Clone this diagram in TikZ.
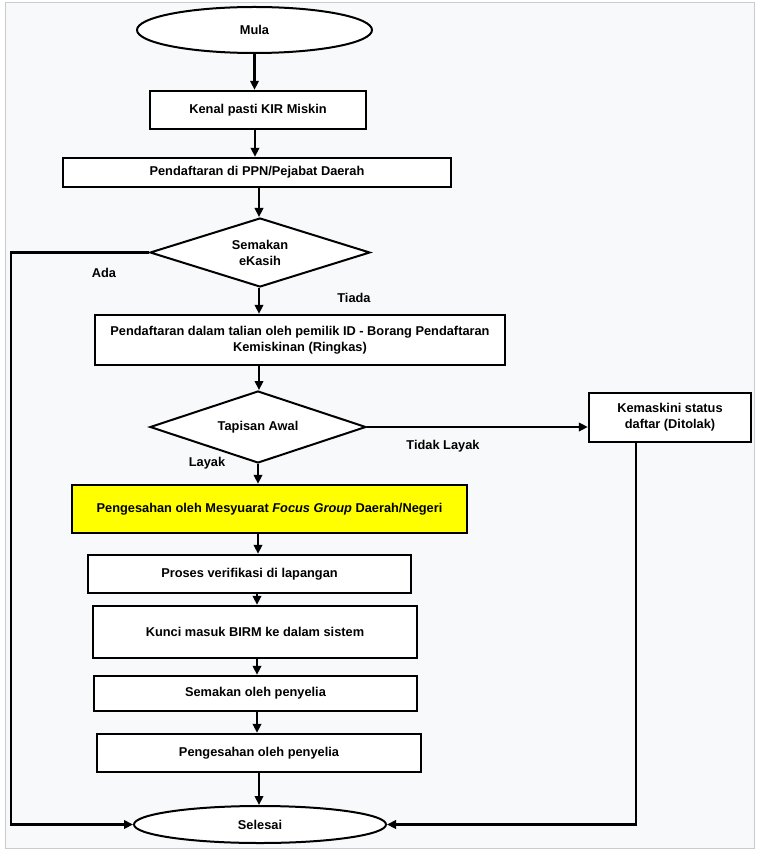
\documentclass[tikz,border=0pt]{standalone}
\usepackage{fontspec}
\setmainfont{Liberation Sans}
\usetikzlibrary{shapes.geometric,arrows.meta}
\definecolor{bgpanel}{HTML}{F8F9FA}
\definecolor{bgline}{HTML}{C8CCD1}
\definecolor{fgyellow}{HTML}{FFFF00}
\tikzset{
  txt/.style={font=\fontsize{12.8}{16}\selectfont\bfseries, align=center},
  procbox/.style={txt, draw=black, line width=2.4pt, fill=white, rectangle, inner sep=0pt},
  decide/.style={txt, draw=black, line width=2pt, fill=white, diamond, aspect=3.2, inner sep=0pt},
  term/.style={txt, draw=black, line width=2pt, fill=white, ellipse, inner sep=0pt},
  arr/.style={line width=2.2pt, -{Triangle[length=9pt,width=8.5pt]}},
  lbl/.style={txt}
}
\begin{document}
\begin{tikzpicture}[x=1pt,y=-1pt]
\useasboundingbox (0,0) rectangle (760,858);
\fill[white] (0,0) rectangle (760,858);
\draw[bgline, fill=bgpanel, line width=1pt] (5,2.5) rectangle (754,848);

\node[term, minimum width=235, minimum height=46] (mula) at (254.5,30) {Mula};
\node[procbox, minimum width=216, minimum height=38] (kenal) at (258,110) {Kenal pasti KIR Miskin};
\node[procbox, minimum width=388, minimum height=29] (ppn) at (257,172.5) {Pendaftaran di PPN/Pejabat Daerah};
\node[decide, minimum width=220, minimum height=69] (semak) at (260,252.5) {Semakan\\eKasih};
\node[procbox, minimum width=410, minimum height=50] (talian) at (300,340) {Pendaftaran dalam talian oleh pemilik ID - Borang Pendaftaran\\Kemiskinan (Ringkas)};
\node[decide, minimum width=216, minimum height=72] (tapis) at (258,427) {Tapisan Awal};
\node[procbox, minimum width=162, minimum height=49] (kemas) at (670,417.5) {Kemaskini status\\daftar (Ditolak)};
\node[procbox, fill=fgyellow, minimum width=395, minimum height=48] (fg) at (269.5,509) {Pengesahan oleh Mesyuarat \textit{Focus Group} Daerah/Negeri};
\node[procbox, minimum width=323, minimum height=38] (proses) at (249.5,574) {Proses verifikasi di lapangan};
\node[procbox, minimum width=324, minimum height=52] (kunci) at (255,632) {Kunci masuk BIRM ke dalam sistem};
\node[procbox, minimum width=323, minimum height=35] (semakp) at (255.5,693.5) {Semakan oleh penyelia};
\node[procbox, minimum width=324, minimum height=38] (pengp) at (259,753) {Pengesahan oleh penyelia};
\node[term, minimum width=252, minimum height=37] (selesai) at (260,824.5) {Selesai};

\draw[arr] (mula.south) -- (mula.south |- kenal.north);
\draw[arr] ([xshift=-3pt]kenal.south) -- ([xshift=-3pt]kenal.south |- ppn.north);
\draw[arr] ([xshift=2pt]ppn.south) -- ([xshift=2pt]ppn.south |- semak.north);
\draw[arr] ([xshift=-1pt]semak.south) -- ([xshift=-1pt]semak.south |- talian.north);
\draw[arr] ([xshift=-41pt]talian.south) -- ([xshift=-41pt]talian.south |- tapis.north);
\draw[arr] (tapis.south) -- (tapis.south |- fg.north);
\draw[arr] ([xshift=-11.5pt]fg.south) -- ([xshift=-11.5pt]fg.south |- proses.north);
\draw[arr] ([xshift=7.5pt]proses.south) -- ([xshift=7.5pt]proses.south |- kunci.north);
\draw[arr] ([xshift=2pt]kunci.south) -- ([xshift=2pt]kunci.south |- semakp.north);
\draw[arr] ([xshift=1.5pt]semakp.south) -- ([xshift=1.5pt]semakp.south |- pengp.north);
\draw[arr] (pengp.south) -- (pengp.south |- selesai.north);

\draw[arr] (tapis.east) -- (kemas.west |- tapis.east);
\draw[arr] (semak.west) -- ++(-138,0) coordinate (leftc) |- (selesai.west);
\draw[arr] ([xshift=-34pt]kemas.south) |- (selesai.east);

\node[lbl] (ada) at (104,273) {Ada};
\node[lbl] (tiada) at (354,298) {Tiada};
\node[lbl] (tidak) at (443,446) {Tidak Layak};
\node[lbl] (layak) at (207,463) {Layak};
\end{tikzpicture}
\end{document}
